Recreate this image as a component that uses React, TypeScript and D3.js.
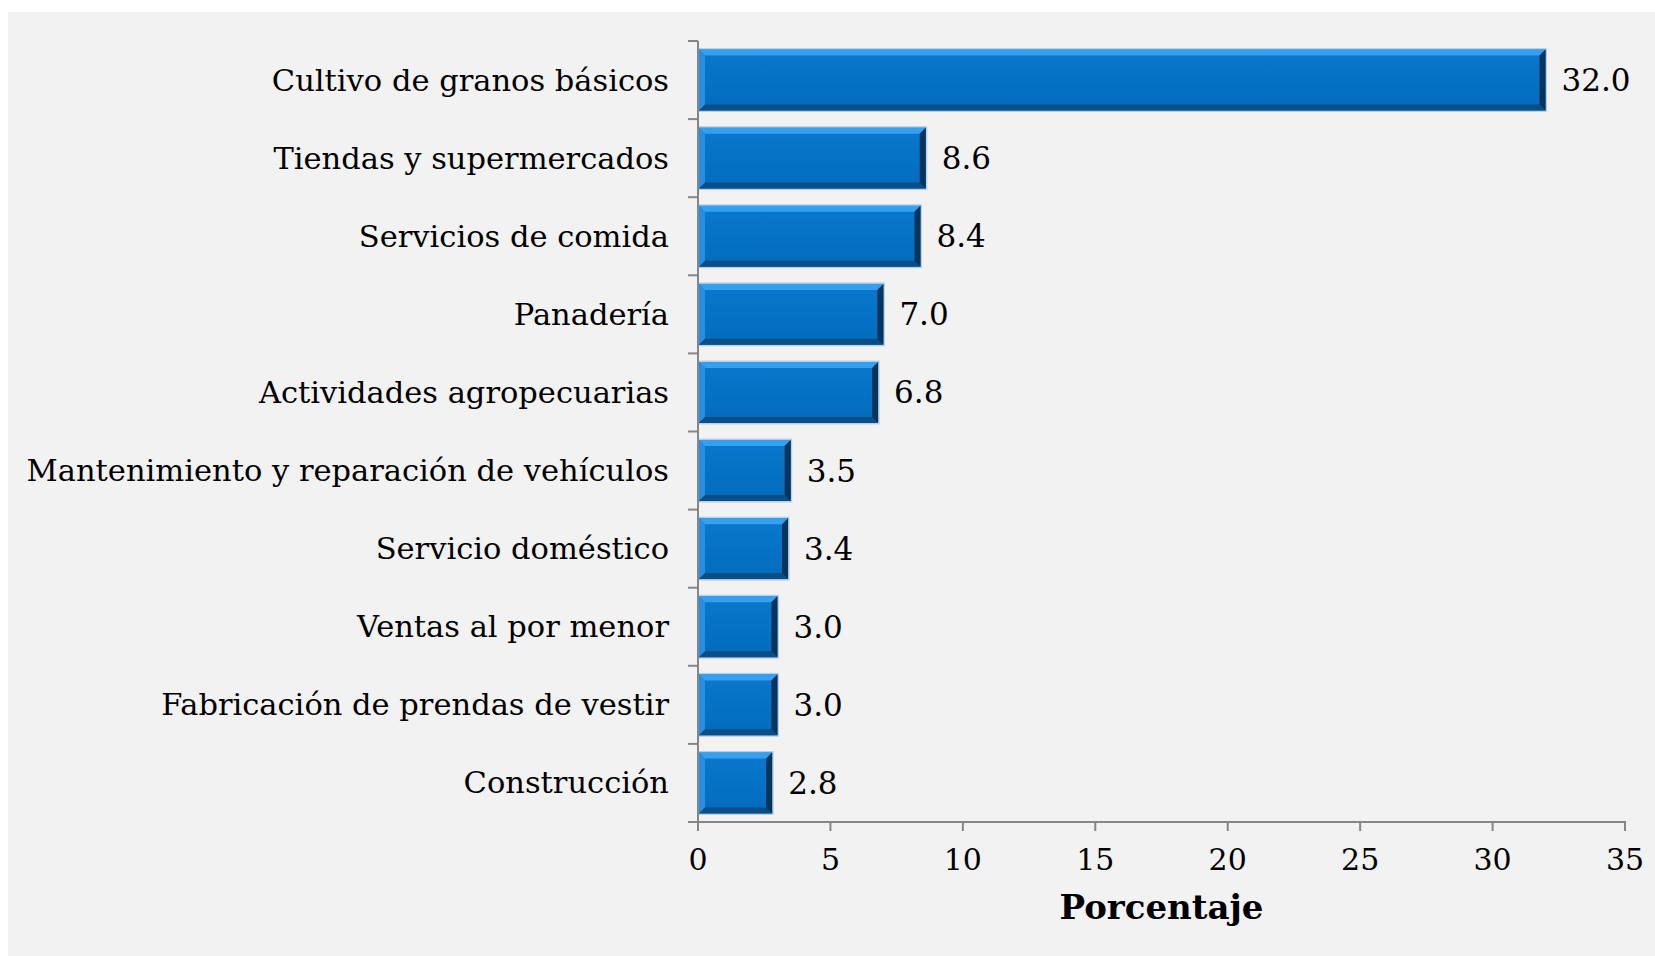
import React from "react";
import * as d3 from "d3";

const categories = [
  "Cultivo de granos básicos",
  "Tiendas y supermercados",
  "Servicios de comida",
  "Panadería",
  "Actividades agropecuarias",
  "Mantenimiento y reparación de vehículos",
  "Servicio doméstico",
  "Ventas al por menor",
  "Fabricación de prendas de vestir",
  "Construcción",
];
const values = [32.0, 8.6, 8.4, 7.0, 6.8, 3.5, 3.4, 3.0, 3.0, 2.8];
const xTicks = [0, 5, 10, 15, 20, 25, 30, 35];
const axisTitle = "Porcentaje";

const W = 1655;
const H = 956;
const FONT = "'DejaVu Serif', serif";

export default function App() {
  const x = d3.scaleLinear().domain([0, 35]).range([698, 1625]);
  const y = d3
    .scaleBand<string>()
    .domain(categories)
    .range([41, 822])
    .paddingInner(0.22)
    .paddingOuter(0.11);
  const top = 41;
  const bottom = 822;
  const boundaries = d3.range(categories.length + 1).map((i) => top + ((bottom - top) * i) / categories.length);
  const x0 = x(0);
  const bev = 6;

  return (
    <svg
      width={W}
      height={H}
      style={{ position: "absolute", left: 0, top: 0, display: "block", overflow: "hidden" }}
    >
      <defs>
        <linearGradient id="face" x1="0" y1="0" x2="0" y2="1">
          <stop offset="0" stopColor="#0a78cc" />
          <stop offset="0.5" stopColor="#0572c6" />
          <stop offset="1" stopColor="#046bbb" />
        </linearGradient>
      </defs>
      <rect x={8} y={12} width={W - 8} height={H - 12} fill="#f2f2f2" />
      {categories.map((c, i) => {
        const bx = x0 + 1;
        const bx2 = x(values[i]);
        const by = y(c)!;
        const bh = y.bandwidth();
        const by2 = by + bh;
        const b = Math.min(bev, (bx2 - bx) / 2);
        return (
          <g key={c}>
            <rect x={bx - 1} y={by - 1.5} width={bx2 - bx + 2.5} height={bh + 3} fill="#b9cfe2" />
            <rect x={bx} y={by} width={bx2 - bx} height={bh} fill="url(#face)" />
            <polygon
              points={`${bx},${by} ${bx2},${by} ${bx2 - b},${by + b} ${bx + b},${by + b}`}
              fill="#35a0f0"
            />
            <polygon
              points={`${bx},${by} ${bx + b},${by + b} ${bx + b},${by2 - b} ${bx},${by2}`}
              fill="#2a8ee0"
            />
            <polygon
              points={`${bx},${by2} ${bx + b},${by2 - b} ${bx2 - b},${by2 - b} ${bx2},${by2}`}
              fill="#0a4e88"
            />
            <polygon
              points={`${bx2},${by} ${bx2},${by2} ${bx2 - b},${by2 - b} ${bx2 - b},${by + b}`}
              fill="#06345d"
            />
            <text
              x={bx2 + 16}
              y={by + bh / 2}
              dominantBaseline="central"
              fontFamily={FONT}
              fontSize={31}
              fill="#000"
            >
              {values[i].toFixed(1)}
            </text>
            <text
              x={669}
              y={by + bh / 2}
              dominantBaseline="central"
              textAnchor="end"
              fontFamily={FONT}
              fontSize={30.5}
              fill="#000"
            >
              {c}
            </text>
          </g>
        );
      })}
      <line x1={x0} x2={x0} y1={top} y2={bottom + 1} stroke="#868686" strokeWidth={2} />
      {boundaries.map((b, i) => (
        <line key={i} x1={x0 - 10} x2={x0} y1={b} y2={b} stroke="#868686" strokeWidth={2} />
      ))}
      <line x1={x0 - 10} x2={x(35) + 1} y1={bottom} y2={bottom} stroke="#868686" strokeWidth={2} />
      {xTicks.map((t) => (
        <g key={t}>
          <line x1={x(t)} x2={x(t)} y1={bottom} y2={bottom + 9} stroke="#868686" strokeWidth={2} />
          <text x={x(t)} y={870} textAnchor="middle" fontFamily={FONT} fontSize={30} fill="#000">
            {t}
          </text>
        </g>
      ))}
      <text
        x={(x(0) + x(35)) / 2}
        y={919}
        textAnchor="middle"
        fontFamily={FONT}
        fontSize={34}
        fontWeight="bold"
        fill="#000"
      >
        {axisTitle}
      </text>
    </svg>
  );
}
